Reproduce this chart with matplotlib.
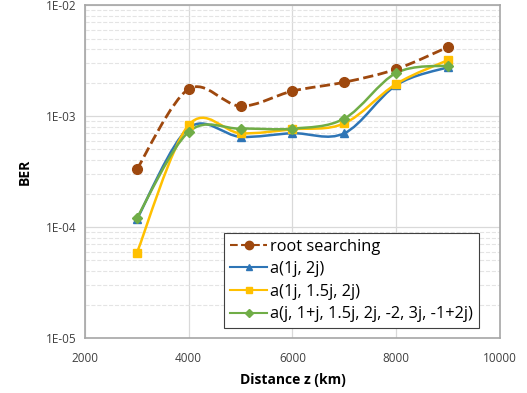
import numpy as np
import matplotlib.pyplot as plt
from matplotlib.path import Path
from matplotlib.patches import PathPatch
from matplotlib.lines import Line2D
from matplotlib.ticker import LogLocator, FuncFormatter

plt.rcParams['font.family'] = ['Open Sans', 'DejaVu Sans']

distance = [3000, 4000, 5000, 6000, 7000, 8000, 9000]
ber_root = [3.3e-4, 1.75e-3, 1.23e-3, 1.68e-3, 2.02e-3, 2.65e-3, 4.2e-3]
ber_a2 = [1.17e-4, 7.8e-4, 6.5e-4, 7.0e-4, 7.0e-4, 1.9e-3, 2.76e-3]
ber_a3 = [5.8e-5, 8.3e-4, 7.0e-4, 7.6e-4, 8.6e-4, 1.95e-3, 3.2e-3]
ber_a7 = [1.2e-4, 7.2e-4, 7.7e-4, 7.7e-4, 9.5e-4, 2.45e-3, 2.85e-3]

series = [
    ('root searching', ber_root, '#9E480E', 'o', '--', 7),
    ('a(1j, 2j)', ber_a2, '#2E75B6', '^', '-', 6),
    ('a(1j, 1.5j, 2j)', ber_a3, '#FFC000', 's', '-', 6),
    ('a(j, 1+j, 1.5j, 2j, -2, 3j, -1+2j)', ber_a7, '#70AD47', 'D', '-', 5),
]


def smooth_path(x, y):
    # excel-like smoothed line: bezier through the points, built in (x, log y)
    x = np.asarray(x, float)
    ly = np.log10(y)
    n = len(x)
    verts = [(x[0], ly[0])]
    codes = [Path.MOVETO]
    for i in range(n - 1):
        p0 = np.array([x[max(i - 1, 0)], ly[max(i - 1, 0)]])
        p1 = np.array([x[i], ly[i]])
        p2 = np.array([x[i + 1], ly[i + 1]])
        p3 = np.array([x[min(i + 2, n - 1)], ly[min(i + 2, n - 1)]])
        c1 = p1 + (p2 - p0) / 6
        c2 = p2 - (p3 - p1) / 6
        verts += [tuple(c1), tuple(c2), tuple(p2)]
        codes += [Path.CURVE4] * 3
    verts = [(vx, 10 ** vy) for vx, vy in verts]
    return Path(verts, codes)


fig = plt.figure(figsize=(5.27, 3.93), dpi=100)
ax = fig.add_axes([0.161, 0.14, 0.788, 0.847])
ax.set_yscale('log')
ax.set_xlim(2000, 10000)
ax.set_ylim(1e-5, 1e-2)

handles = []
for name, vals, col, mk, ls, ms in series:
    patch = PathPatch(smooth_path(distance, vals), facecolor='none', edgecolor=col,
                      lw=1.8 if ls == '-' else 2.0, linestyle=ls, zorder=3)
    ax.add_patch(patch)
    ax.plot(distance, vals, linestyle='none', marker=mk, color=col, ms=ms, zorder=4)
    handles.append(Line2D([], [], color=col, lw=1.5, linestyle=ls, marker=mk, ms=ms - 1))

ax.set_xticks([2000, 4000, 6000, 8000, 10000])
ax.yaxis.set_major_locator(LogLocator(base=10, numticks=10))
ax.yaxis.set_minor_locator(LogLocator(base=10, subs=np.arange(2, 10), numticks=10))
ax.yaxis.set_major_formatter(FuncFormatter(lambda v, p: '1E-%02d' % round(-np.log10(v))))
ax.yaxis.set_minor_formatter(FuncFormatter(lambda v, p: ''))
ax.tick_params(which='both', length=0, labelsize=8.5, colors='#404040')
ax.tick_params(axis='x', pad=10)
ax.tick_params(axis='y', pad=6)

ax.grid(which='major', color='#D9D9D9', lw=0.9)
ax.grid(which='minor', axis='y', color='#E4E4E4', lw=0.8, linestyle='--')
ax.set_axisbelow(True)
for sp in ax.spines.values():
    sp.set_color('#A6A6A6')
    sp.set_linewidth(1.2)

ax.set_xlabel('Distance z (km)', fontsize=10, fontweight='bold', labelpad=6)
ax.set_ylabel('BER', fontsize=10, fontweight='bold', labelpad=10)

leg = ax.legend(handles, [s[0] for s in series], loc='lower right',
                bbox_to_anchor=(0.948, 0.03), fontsize=11.8, fancybox=False,
                edgecolor='#404040', framealpha=1, handlelength=2.3,
                handletextpad=0.15, borderpad=0.35, labelspacing=0.4,
                borderaxespad=0)
leg.get_frame().set_linewidth(0.8)

fig.savefig('out.png')
